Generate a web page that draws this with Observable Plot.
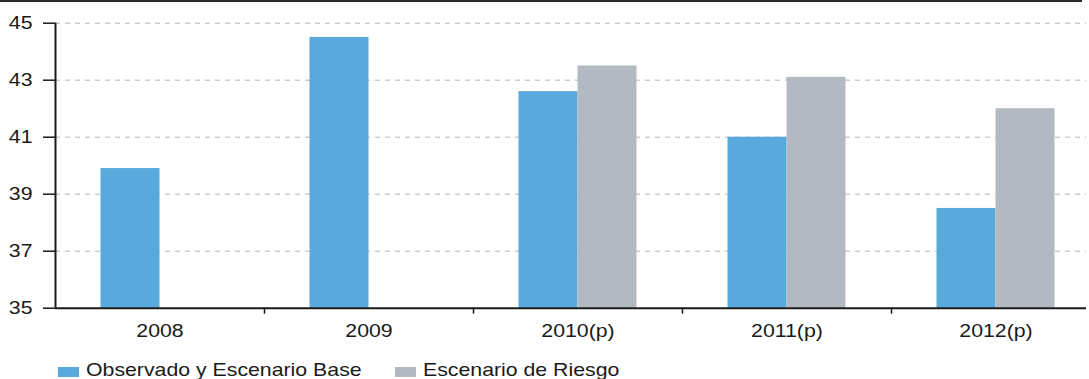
<!DOCTYPE html>
<html>
<head>
<meta charset="utf-8">
<script src="https://cdn.jsdelivr.net/npm/d3@7"></script>
<script src="https://cdn.jsdelivr.net/npm/@observablehq/plot@0.6"></script>
<style>
  html, body { margin: 0; padding: 0; background: #fff; overflow: hidden; }
  #wrap { position: relative; width: 1089px; height: 379px; overflow: hidden; font-family: "Liberation Sans", Arial, sans-serif; color: #1a1a1a; }
  #topline { position: absolute; left: 0; top: 0; width: 1082px; height: 0; border-top: 2px solid #2b2b2b; }
  #chart { position: absolute; left: 0; top: 0; width: 1086px; overflow: hidden; }
  #legend { position: absolute; left: 0; top: 359px; width: 1089px; height: 30px; }
  .item { position: absolute; top: 0; display: flex; align-items: flex-start; }
  .sw { width: 21px; height: 10px; margin-top: 8px; }
  .lt { display: inline-block; font-size: 19px; line-height: 21px; margin-left: 7px; transform: scaleX(1.12); transform-origin: 0 50%; white-space: nowrap; }
</style>
</head>
<body>
<div id="wrap">
  <div id="chart"></div>
  <div id="topline"></div>
  <div id="legend"></div>
</div>
<script>
// ---- data ----
const years = ["2008", "2009", "2010(p)", "2011(p)", "2012(p)"];
const seriesNames = ["Observado y Escenario Base", "Escenario de Riesgo"];
const baseValues = [39.9, 44.5, 42.6, 41.0, 38.5];
const riskValues = [null, null, 43.5, 43.1, 42.0];
const yTicks = [35, 37, 39, 41, 43, 45];
const colors = ["#5aa9dd", "#b3b9c1"];

const rows = [];
years.forEach((yr, i) => {
  if (baseValues[i] != null) rows.push({year: yr, series: seriesNames[0], value: baseValues[i]});
  if (riskValues[i] != null) rows.push({year: yr, series: seriesNames[1], value: riskValues[i]});
});

const W = 1100, ML = 55, MR = 0;
const band = (W - ML - MR) / years.length;
const barW = 59;
const yMin = yTicks[0], yMax = yTicks[yTicks.length - 1];
const ink = "#1a1a1a";

const chart = Plot.plot({
  width: W,
  height: 350,
  marginLeft: ML,
  marginRight: MR,
  marginTop: 22.7,
  marginBottom: 42.3,
  x: {type: "band", domain: years, padding: 0, label: null},
  y: {domain: [yMin, yMax], label: null},
  color: {domain: seriesNames, range: colors},
  style: {fontFamily: "Liberation Sans, Arial, sans-serif", fontSize: "19px", color: ink, background: "transparent", maxWidth: "none"},
  marks: [
    Plot.gridY(yTicks.slice(1), {stroke: "#cccccc", strokeOpacity: 1, strokeWidth: 1.5, strokeDasharray: "5,5"}),
    Plot.barY(rows.filter(d => d.series === seriesNames[0]), {
      x: "year", y1: yMin, y2: "value", fill: "series",
      insetLeft: band / 2 - barW, insetRight: band / 2
    }),
    Plot.barY(rows.filter(d => d.series === seriesNames[1]), {
      x: "year", y1: yMin, y2: "value", fill: "series",
      insetLeft: band / 2, insetRight: band / 2 - barW
    }),
    Plot.ruleY([yMin], {stroke: ink, strokeWidth: 2}),
    Plot.ruleX([years[0]], {dx: -band / 2, y1: yMin, y2: yMax, stroke: ink, strokeWidth: 2}),
    Plot.ruleX(years.slice(1), {x: d => d, y1: yMin, y2: yMin, dx: -band / 2, insetBottom: -6, stroke: ink, strokeWidth: 1.5}),
    Plot.axisY(yTicks, {tickSize: 12, tickPadding: 11, stroke: ink, strokeWidth: 1.5, fill: ink, fontSize: 19}),
    Plot.axisX({tickSize: 0, tickPadding: 15, fill: ink, fontSize: 19})
  ]
});
document.getElementById("chart").appendChild(chart);

// widen tick labels slightly to match the reference's proportions
chart.querySelectorAll("g[aria-label='x-axis tick label'] text, g[aria-label='y-axis tick label'] text").forEach(t => {
  const w = t.getComputedTextLength();
  t.setAttribute("textLength", (w * 1.12).toFixed(2));
  t.setAttribute("lengthAdjust", "spacingAndGlyphs");
});

// legend
const legend = document.getElementById("legend");
let x = 58;
seriesNames.forEach((name, i) => {
  const item = document.createElement("div");
  item.className = "item";
  item.style.left = x + "px";
  const sw = document.createElement("div");
  sw.className = "sw";
  sw.style.background = colors[i];
  const lt = document.createElement("span");
  lt.className = "lt";
  lt.textContent = name;
  item.appendChild(sw);
  item.appendChild(lt);
  legend.appendChild(item);
  x = lt.getBoundingClientRect().right + 33;
});
</script>
</body>
</html>
